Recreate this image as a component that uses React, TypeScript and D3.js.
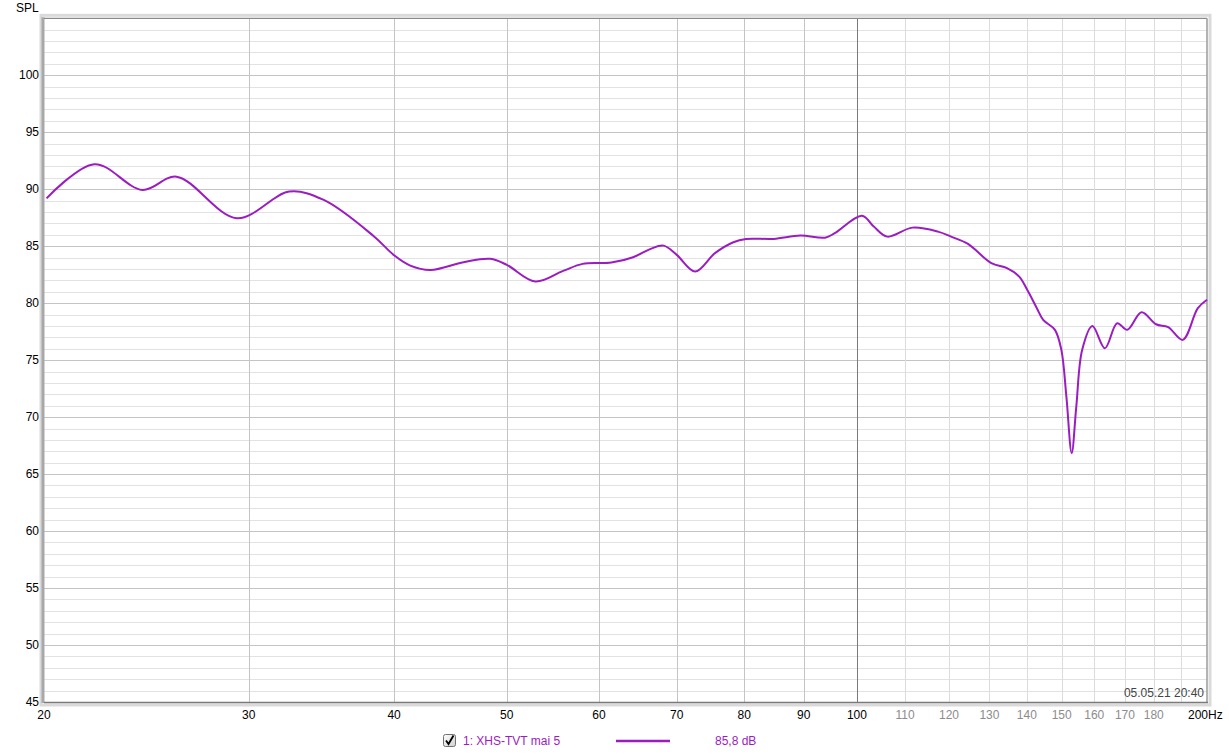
import React from "react";
import * as d3 from "d3";

const freqs = [
  20.1, 22.1, 24.3, 26.0, 29.3, 32.5, 34.8, 38.4, 40.0, 41.3, 43.0, 45.9, 48.4, 50.0,
  52.9, 55.9, 58.1, 61.5, 64.2, 66.4, 68.2, 70.0, 72.6, 75.5, 78.3, 80.3, 84.8,
  89.4, 93.9, 95.7, 101.0, 103.4, 106.2, 111.6, 117.4, 120.5, 124.6, 130.5,
  134.6, 137.9, 140.1, 142.8, 144.6, 148.0, 149.9, 151.4, 153.0, 154.4, 156.2,
  159.4, 163.4, 167.4, 170.8, 175.7, 180.8, 185.2, 190.6, 196.4, 200,
];
const spl = [
  89.2, 92.2, 89.94, 91.1, 87.46, 89.79, 89.06, 85.9, 84.2, 83.3, 82.92, 83.6, 83.89,
  83.36, 81.9, 82.83, 83.45, 83.56, 84.03, 84.74, 85.05, 84.24, 82.77, 84.39,
  85.35, 85.64, 85.64, 85.93, 85.75, 86.14, 87.68, 86.72, 85.84, 86.63, 86.28,
  85.84, 85.2, 83.51, 83.07, 82.33, 81.17, 79.56, 78.53, 77.66, 75.9, 71.8,
  66.84, 70.93, 75.9, 78.0, 76.05, 78.24, 77.66, 79.2, 78.15, 77.9, 76.78,
  79.56, 80.3,
];

const xMajorTicks = [20, 30, 40, 50, 60, 70, 80, 90, 100];
const xMinorTicks = [110, 120, 130, 140, 150, 160, 170, 180];
const xMinorGrid = [110, 120, 130, 140, 150, 160, 170, 180, 190];
const yTicks = [45, 50, 55, 60, 65, 70, 75, 80, 85, 90, 95, 100];
const yGrid = d3.range(46, 105, 1);

const seriesName = "1: XHS-TVT mai 5";
const seriesLevel = "85,8 dB";
const timestamp = "05.05.21 20:40";

const W = 1229;
const H = 755;
const L = 44;
const R = 1207;
const T = 18.3;
const B = 702;
const PURPLE = "#9b1cc0";
const FONT = "'Liberation Sans', Arial, sans-serif";

export default function App() {
  const x = d3.scaleLog().domain([20, 200]).range([L, R]);
  const y = d3.scaleLinear().domain([45, 105]).range([B, T]);
  const pts: [number, number][] = freqs.map((f, i) => [f, spl[i]]);
  const line = d3
    .line<[number, number]>()
    .x((d) => x(d[0]))
    .y((d) => y(d[1]))
    .curve(d3.curveCatmullRom.alpha(0.5));

  return (
    <svg
      width={W}
      height={H}
      style={{ position: "absolute", left: 0, top: 0, display: "block", background: "#fff" }}
      fontFamily={FONT}
    >
      <rect x={0} y={0} width={W} height={H} fill="#fff" />
      {/* frame shadow */}
      <rect x={L - 3} y={T - 3} width={R - L + 6} height={B - T + 6} fill="none" stroke="#dadada" strokeWidth={3} />
      <rect x={L} y={T} width={R - L} height={B - T} fill="#fff" />
      {/* horizontal grid */}
      {yGrid.map((v) => (
        <line
          key={"h" + v}
          x1={L}
          x2={R}
          y1={Math.round(y(v)) + 0.5}
          y2={Math.round(y(v)) + 0.5}
          stroke={v % 5 === 0 ? "#c4c4c4" : "#e2e2e2"}
          strokeWidth={1}
        />
      ))}
      {/* vertical grid */}
      {xMinorGrid.map((v) => (
        <line key={"vm" + v} x1={Math.round(x(v)) + 0.5} x2={Math.round(x(v)) + 0.5} y1={T} y2={B} stroke="#dcdcdc" />
      ))}
      {xMajorTicks.slice(1).map((v) => (
        <line
          key={"vM" + v}
          x1={Math.round(x(v)) + 0.5}
          x2={Math.round(x(v)) + 0.5}
          y1={T}
          y2={B}
          stroke={v === 100 ? "#7a7a7a" : "#c4c4c4"}
        />
      ))}
      {/* frame */}
      <line x1={L - 1} x2={L - 1} y1={T - 1} y2={B + 1} stroke="#a8a8a8" strokeWidth={3} />
      <line x1={L} x2={R} y1={T} y2={T} stroke="#8a8a8a" strokeWidth={1.2} />
      <line x1={R} x2={R} y1={T} y2={B} stroke="#9a9a9a" strokeWidth={1.5} />
      <line x1={L} x2={R + 1} y1={B + 0.5} y2={B + 0.5} stroke="#7a7a7a" strokeWidth={1.5} />
      {/* curve */}
      <path d={line(pts) || ""} fill="none" stroke={PURPLE} strokeWidth={2} strokeLinejoin="round" />
      {/* y labels */}
      <text x={16} y={12} fontSize={12} fill="#000">SPL</text>
      {yTicks.map((v) => (
        <text key={"yl" + v} x={39} y={y(v) + 4} fontSize={12} textAnchor="end" fill="#000">
          {v}
        </text>
      ))}
      {/* x labels */}
      {xMajorTicks.map((v) => (
        <text key={"xl" + v} x={x(v)} y={719} fontSize={12} textAnchor="middle" fill="#000">
          {v}
        </text>
      ))}
      {xMinorTicks.map((v) => (
        <text key={"xm" + v} x={x(v)} y={719} fontSize={12} textAnchor="middle" fill="#8c8c8c">
          {v}
        </text>
      ))}
      <text x={1188} y={719} fontSize={12} fill="#000">200Hz</text>
      {/* timestamp */}
      <text x={1204} y={697} fontSize={12} textAnchor="end" fill="#444">{timestamp}</text>
      {/* legend */}
      <defs>
        <linearGradient id="cb" x1="0" y1="0" x2="1" y2="1">
          <stop offset="0" stopColor="#ffffff" />
          <stop offset="1" stopColor="#d0d0d0" />
        </linearGradient>
      </defs>
      <rect x={443.5} y={734.5} width={12} height={12} rx={2} fill="url(#cb)" stroke="#707070" />
      <path d="M446 740.5 L448.5 744 L453.5 735.5" fill="none" stroke="#000" strokeWidth={1.8} />
      <text x={463} y={745} fontSize={12} fill={PURPLE}>{seriesName}</text>
      <line x1={616} x2={670} y1={741} y2={741} stroke={PURPLE} strokeWidth={2.5} />
      <text x={715} y={745} fontSize={12} fill={PURPLE}>{seriesLevel}</text>
    </svg>
  );
}
